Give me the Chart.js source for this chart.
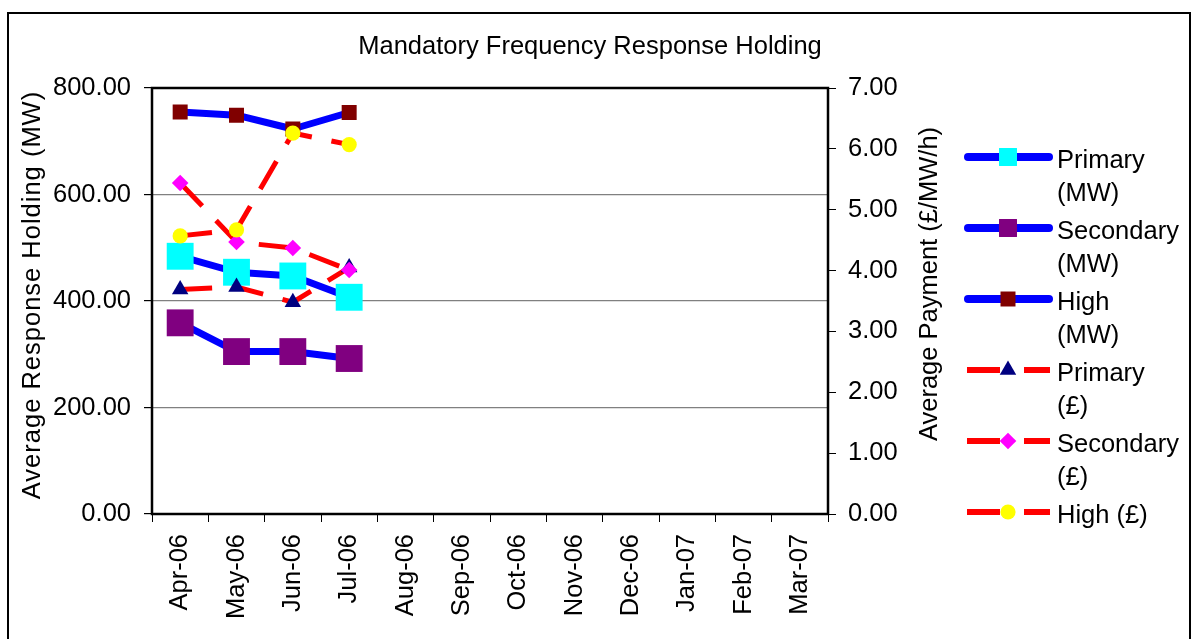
<!DOCTYPE html>
<html>
<head>
<meta charset="utf-8">
<title>Mandatory Frequency Response Holding</title>
<script src="https://cdn.jsdelivr.net/npm/chart.js@4.4.1/dist/chart.umd.min.js"></script>
<style>
  html, body { margin: 0; padding: 0; background: #fff; }
  #chart { display: block; }
</style>
</head>
<body>
<canvas id="chart" width="1191" height="639"></canvas>
<script>
// ---------------- Data ----------------
const months = ['Apr-06','May-06','Jun-06','Jul-06','Aug-06','Sep-06','Oct-06','Nov-06','Dec-06','Jan-07','Feb-07','Mar-07'];

// MW holdings (left axis)
const primaryMW   = [484, 454, 447, 407, null, null, null, null, null, null, null, null];
const secondaryMW = [359, 305, 305, 292, null, null, null, null, null, null, null, null];
const highMW      = [755, 749, 723, 754, null, null, null, null, null, null, null, null];

// payments £/MW/h (right axis)
const primaryGBP   = [3.69, 3.73, 3.48, 4.05, null, null, null, null, null, null, null, null];
const secondaryGBP = [5.44, 4.47, 4.37, 4.01, null, null, null, null, null, null, null, null];
const highGBP      = [4.57, 4.67, 6.26, 6.07, null, null, null, null, null, null, null, null];

const leftTicks  = [0, 200, 400, 600, 800];
const rightTicks = [0, 1, 2, 3, 4, 5, 6, 7];

const legendText = [
  ['Primary', '(MW)'],
  ['Secondary', '(MW)'],
  ['High', '(MW)'],
  ['Primary', '(£)'],
  ['Secondary', '(£)'],
  ['High (£)']
];

// ---------------- Styles ----------------
const FONT = '"Liberation Sans", Arial, sans-serif';
const FSIZE = 25.5;
const BLUE = '#0000ff', RED = '#ff0000';
const DASH = [32, 20];

function mwSet(label, data, color, radius, order){
  return { label, data, yAxisID:'y', borderColor:BLUE, borderWidth:7, borderCapStyle:'round', borderJoinStyle:'round',
    pointStyle:'rect', pointRadius:radius, pointBackgroundColor:color, pointBorderWidth:0, pointHoverRadius:radius,
    legendRadius: radius*0.67, spanGaps:false, order };
}
function gbpSet(label, data, color, style, radius, order){
  return { label, data, yAxisID:'y1', borderColor:RED, borderWidth:5, borderDash:DASH, borderCapStyle:'butt',
    pointStyle:style, pointRadius:radius, pointBackgroundColor:color, pointBorderWidth:0, pointHoverRadius:radius,
    legendRadius: radius, spanGaps:false, order };
}

// later series sit on top, as in the original
const datasets = [
  mwSet('Primary (MW)', primaryMW, '#00ffff', 19, 6),
  mwSet('Secondary (MW)', secondaryMW, '#800080', 19, 5),
  mwSet('High (MW)', highMW, '#800000', 10.6, 4),
  gbpSet('Primary (£)', primaryGBP, '#000080', 'triangle', 9.5, 3),
  gbpSet('Secondary (£)', secondaryGBP, '#ff00ff', 'rectRot', 8.3, 2),
  gbpSet('High (£)', highGBP, '#ffff00', 'circle', 7.6, 1)
];
datasets[0].legendRadius = 12.7;
datasets[1].legendRadius = 12.7;
datasets[2].legendRadius = 10.6;

// ---------------- Helpers ----------------
function marker(ctx, style, x, y, r, color){
  ctx.save();
  ctx.fillStyle = color;
  ctx.beginPath();
  if(style === 'rect'){
    const s = r*Math.SQRT1_2;
    ctx.rect(x-s, y-s, 2*s, 2*s);
  } else if(style === 'rectRot'){
    ctx.moveTo(x-r, y); ctx.lineTo(x, y-r); ctx.lineTo(x+r, y); ctx.lineTo(x, y+r); ctx.closePath();
  } else if(style === 'triangle'){
    ctx.moveTo(x, y-r); ctx.lineTo(x+r*0.866, y+r/2); ctx.lineTo(x-r*0.866, y+r/2); ctx.closePath();
  } else {
    ctx.arc(x, y, r, 0, Math.PI*2);
  }
  ctx.fill();
  ctx.restore();
}

// ---------------- Frame, titles, legend ----------------
const decorations = {
  id: 'decorations',
  beforeDraw(chart){
    const ctx = chart.ctx;
    ctx.save();
    ctx.fillStyle = '#fff';
    ctx.fillRect(0, 0, chart.width, chart.height);
    ctx.strokeStyle = '#000'; ctx.lineWidth = 2;
    ctx.strokeRect(8, 13, 1182, 700);
    ctx.restore();
  },
  afterDraw(chart){
    const ctx = chart.ctx, a = chart.chartArea;
    ctx.save();
    // plot frame
    ctx.strokeStyle = '#000'; ctx.lineWidth = 2.5;
    ctx.strokeRect(a.left, a.top, a.right - a.left, a.bottom - a.top);

    ctx.fillStyle = '#000';
    ctx.font = FSIZE + 'px ' + FONT;
    ctx.textBaseline = 'middle';
    ctx.textAlign = 'center';
    ctx.fillText('Mandatory Frequency Response Holding', 590, 47);

    // axis titles
    ctx.save(); ctx.translate(33, 295); ctx.rotate(-Math.PI/2);
    ctx.letterSpacing = '1px';
    ctx.fillText('Average Response Holding (MW)', 0, 0); ctx.restore();
    ctx.save(); ctx.translate(930, 284); ctx.rotate(-Math.PI/2);
    ctx.fillText('Average Payment (£/MW/h)', 0, 0); ctx.restore();

    // legend
    ctx.textAlign = 'left';
    const rowY = [157, 228, 299, 370, 441, 512];
    chart.data.datasets.forEach((d,i)=>{
      const y = rowY[i];
      ctx.save();
      ctx.strokeStyle = d.borderColor;
      ctx.lineWidth = d.borderWidth + 1;
      ctx.beginPath();
      if(d.borderDash){
        ctx.lineCap = 'butt';
        ctx.moveTo(967, y); ctx.lineTo(1000, y);
        ctx.moveTo(1024, y); ctx.lineTo(1050, y);
      } else {
        ctx.lineCap = 'round';
        ctx.moveTo(968, y); ctx.lineTo(1049, y);
      }
      ctx.stroke();
      ctx.restore();
      marker(ctx, d.pointStyle, 1008, y, d.legendRadius, d.pointBackgroundColor);
      legendText[i].forEach((t,j)=> ctx.fillText(t, 1057, y + 4 + j*33));
    });
    ctx.restore();
  }
};

// ---------------- Chart ----------------
const tickFont = { family: FONT, size: FSIZE };

new Chart(document.getElementById('chart'), {
  type: 'line',
  data: { labels: months, datasets },
  options: {
    responsive: false,
    animation: false,
    devicePixelRatio: 1,
    layout: { padding: { top: 88, left: 0, right: 0, bottom: 0 } },
    plugins: { legend: { display: false }, title: { display: false }, tooltip: { enabled: false } },
    scales: {
      x: {
        type: 'category', offset: true,
        grid: { drawOnChartArea: false, drawTicks: true, tickLength: 8, tickColor: '#000', offset: true },
        border: { display: false },
        ticks: { font: tickFont, color: '#000', minRotation: 90, maxRotation: 90, autoSkip: false, padding: 12 },
        afterFit: s => { s.height = 125; }
      },
      y: {
        position: 'left', min: 0, max: 800,
        afterBuildTicks: s => { s.ticks = leftTicks.map(v => ({ value: v })); },
        grid: { color: c => (c.tick && (c.tick.value === 0 || c.tick.value === 800)) ? 'rgba(0,0,0,0)' : '#808080',
                lineWidth: 1.2, tickColor: '#000', tickLength: 8 },
        border: { display: false },
        ticks: { font: tickFont, color: '#000', padding: 13, callback: v => Number(v).toFixed(2) },
        afterFit: s => { s.width = 152; }
      },
      y1: {
        position: 'right', min: 0, max: 7,
        afterBuildTicks: s => { s.ticks = rightTicks.map(v => ({ value: v })); },
        grid: { drawOnChartArea: false, tickColor: '#000', tickLength: 8 },
        border: { display: false },
        ticks: { font: tickFont, color: '#000', padding: 12, callback: v => Number(v).toFixed(2) },
        afterFit: s => { s.width = 1191 - 828; }
      }
    }
  },
  plugins: [decorations]
});
</script>
</body>
</html>
